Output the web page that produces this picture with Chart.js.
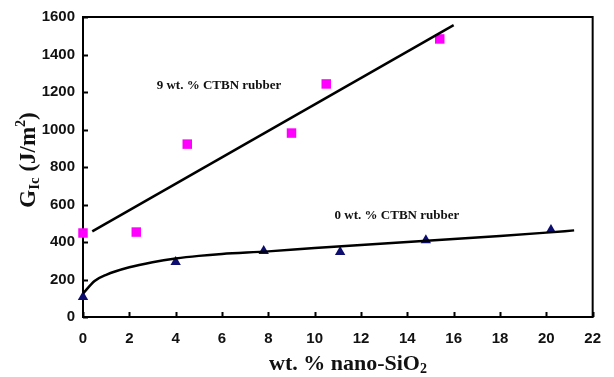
<!DOCTYPE html>
<html>
<head>
<meta charset="utf-8">
<script src="https://cdn.jsdelivr.net/npm/chart.js@4.4.1/dist/chart.umd.min.js"></script>
<style>
    body { margin: 0; background: #fff; }
    canvas { display: block; }
</style>
</head>
<body>
<canvas id="chart" width="614" height="377"></canvas>
<script>
// Values
const xTicks = [0, 2, 4, 6, 8, 10, 12, 14, 16, 18, 20, 22];
const yTicks = [0, 200, 400, 600, 800, 1000, 1200, 1400, 1600];

// 9 wt.% CTBN rubber (squares) and its linear fit
const rubber9X = [0, 2.3, 4.5, 9.0, 10.5, 15.4];
const rubber9Y = [448, 453, 922, 981, 1243, 1483];
const fit9X = [0.4, 16.0];
const fit9Y = [457, 1557];

// 0 wt.% CTBN rubber (triangles) and its fitted curve
const rubber0X = [0, 4.0, 7.8, 11.1, 14.8, 20.2];
const rubber0Y = [107, 293, 352, 347, 410, 464];
const fit0X = [0, 0.5, 1, 2, 3, 4, 5, 6, 8, 10, 12, 14, 16, 18, 20, 21.2];
const fit0Y = [125, 192, 225, 265, 292, 312, 326, 336, 350, 368, 384, 400, 416, 432, 450, 462];

function toPoints(xs, ys) {
    return xs.map((x, i) => ({ x: x, y: ys[i] }));
}

// draw a row of text pieces (font / baseline shift), centered on cx
function drawRuns(ctx, runs, cx, baseY) {
    let total = 0;
    runs.forEach(r => { ctx.font = r.font; r.w = ctx.measureText(r.text).width; total += r.w; });
    let x = cx - total / 2;
    runs.forEach(r => {
        ctx.font = r.font;
        ctx.fillText(r.text, x, baseY + (r.dy || 0));
        x += r.w;
    });
}

const framePlugin = {
    id: 'frame',
    beforeDatasetsDraw(chart) {
        const { ctx, chartArea: a, scales: { x, y } } = chart;
        ctx.save();
        ctx.strokeStyle = '#000';
        ctx.lineWidth = 2;
        ctx.strokeRect(a.left, a.top, a.right - a.left, a.bottom - a.top);
        // inward tick marks
        ctx.beginPath();
        xTicks.forEach(v => {
            const px = Math.round(x.getPixelForValue(v)) + 0.5;
            ctx.moveTo(px, a.bottom);
            ctx.lineTo(px, a.bottom - 5);
        });
        yTicks.forEach(v => {
            const py = Math.round(y.getPixelForValue(v)) + 0.5;
            ctx.moveTo(a.left, py);
            ctx.lineTo(a.left + 5, py);
        });
        ctx.stroke();
        ctx.restore();
    },
    afterDraw(chart) {
        const { ctx, scales: { x, y } } = chart;
        ctx.save();
        ctx.fillStyle = '#111';
        ctx.textBaseline = 'alphabetic';
        ctx.textAlign = 'left';

        // curve labels
        const serif = '"Liberation Serif", "Times New Roman", serif';
        ctx.font = 'bold 13px ' + serif;
        ctx.textAlign = 'center';
        ctx.fillText('9 wt. % CTBN rubber', x.getPixelForValue(5.87), y.getPixelForValue(1243) + 5);
        ctx.fillText('0 wt. % CTBN rubber', x.getPixelForValue(13.55), y.getPixelForValue(549) + 5);
        ctx.textAlign = 'left';

        // x axis title
        drawRuns(ctx, [
            { text: 'wt. % nano-SiO', font: 'bold 22px ' + serif },
            { text: '2', font: 'bold 14px ' + serif, dy: 3 }
        ], 348, 370);

        // y axis title
        ctx.translate(35, 160);
        ctx.rotate(-Math.PI / 2);
        drawRuns(ctx, [
            { text: 'G', font: 'bold 23px ' + serif },
            { text: 'Ic', font: 'bold 15px ' + serif, dy: 4 },
            { text: ' (J/m', font: 'bold 23px ' + serif },
            { text: '2', font: 'bold 14px ' + serif, dy: -10 },
            { text: ')', font: 'bold 23px ' + serif }
        ], 0, 0);
        ctx.restore();
    }
};

const tickFont = { family: '"Liberation Sans", Arial, sans-serif', size: 15, weight: 'bold' };

new Chart(document.getElementById('chart').getContext('2d'), {
    type: 'scatter',
    data: {
        datasets: [
            {
                label: '9 wt.% fit',
                data: toPoints(fit9X, fit9Y),
                showLine: true,
                borderColor: '#000',
                borderWidth: 2.5,
                pointRadius: 0,
                clip: false
            },
            {
                label: '0 wt.% fit',
                data: toPoints(fit0X, fit0Y),
                showLine: true,
                borderColor: '#000',
                borderWidth: 2.5,
                pointRadius: 0,
                cubicInterpolationMode: 'monotone',
                clip: false
            },
            {
                label: '9 wt.% CTBN rubber',
                data: toPoints(rubber9X, rubber9Y),
                pointStyle: 'rect',
                pointRadius: 6.7,
                backgroundColor: '#ff00ff',
                borderColor: '#ff00ff',
                borderWidth: 0,
                clip: false
            },
            {
                label: '0 wt.% CTBN rubber',
                data: toPoints(rubber0X, rubber0Y),
                pointStyle: 'triangle',
                pointRadius: 6,
                backgroundColor: '#0d0d70',
                borderColor: '#0d0d70',
                borderWidth: 0,
                clip: false
            }
        ]
    },
    options: {
        responsive: false,
        animation: false,
        layout: { padding: { top: 17, right: 9, left: 0, bottom: 0 } },
        plugins: {
            legend: { display: false },
            tooltip: { enabled: false }
        },
        scales: {
            x: {
                type: 'linear',
                min: 0,
                max: 22,
                afterBuildTicks: s => { s.ticks = xTicks.map(v => ({ value: v })); },
                afterFit: s => { s.height = 60; },
                grid: { display: false, drawTicks: false },
                border: { display: false },
                ticks: { font: tickFont, color: '#111', padding: 13, maxRotation: 0, callback: v => String(v) }
            },
            y: {
                type: 'linear',
                min: 0,
                max: 1600,
                afterBuildTicks: s => { s.ticks = yTicks.map(v => ({ value: v })); },
                afterFit: s => { s.width = 83; },
                grid: { display: false, drawTicks: false },
                border: { display: false },
                ticks: { font: tickFont, color: '#111', padding: 8, callback: v => String(v) }
            }
        }
    },
    plugins: [framePlugin]
});
</script>
</body>
</html>
